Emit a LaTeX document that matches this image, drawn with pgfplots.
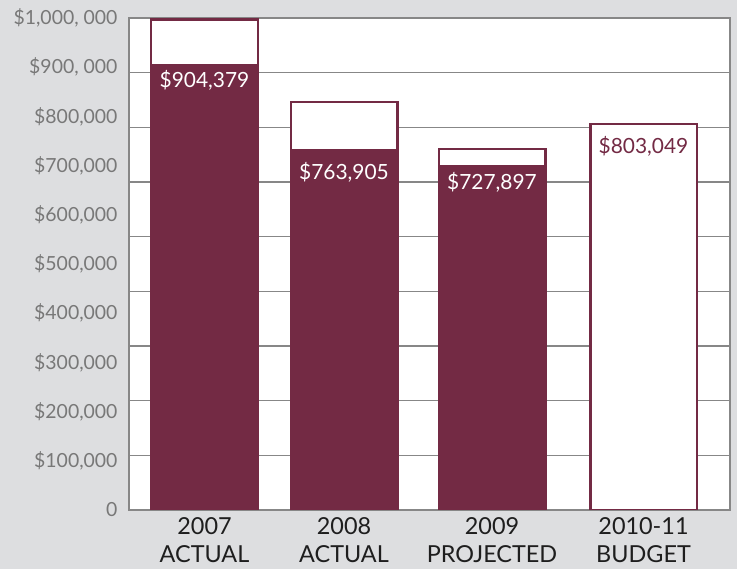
\documentclass[border=0pt]{standalone}
\usepackage{pgfplots}
\pgfplotsset{compat=1.18}
\usepackage{fontspec}
\setmainfont{Lato}
\definecolor{maroon}{RGB}{115,42,68}
\definecolor{bg}{RGB}{221,222,224}
\definecolor{gridc}{RGB}{135,135,135}
\definecolor{lab}{RGB}{120,120,120}
\definecolor{xlab}{RGB}{30,30,30}
\begin{document}
\begin{tikzpicture}[x=1bp,y=1bp]
\fill[bg] (0,0) rectangle (737,569);
\begin{axis}[
  at={(129bp,59bp)}, anchor=south west,
  scale only axis, width=601bp, height=492bp,
  xmin=129, xmax=730, ymin=0, ymax=1000000,
  axis background/.style={fill=white},
  axis line style={draw=gridc, line width=1.3pt},
  major tick length=0pt,
  scaled y ticks=false,
  ytick={0,100000,200000,300000,400000,500000,600000,700000,800000,900000,1000000},
  yticklabels={{0},{\$100,000},{\$200,000},{\$300,000},{\$400,000},{\$500,000},{\$600,000},{\$700,000},{\$800,000},{\$900, 000},{\$1,000, 000}},
  yticklabel style={text=lab, font=\fontsize{19.5}{19.5}\selectfont, xshift=-8bp},
  extra y ticks={111111,222222,333333,444444,555556,666667,777778,888889},
  extra y tick labels={},
  extra y tick style={grid=major, major grid style={draw=gridc, line width=1.2pt}},
  xtick={204.5,344,492,643.5},
  xticklabels={{2007\\ACTUAL},{2008\\ACTUAL},{2009\\PROJECTED},{2010-11\\BUDGET}},
  xticklabel style={align=center, font=\fontsize{23.5}{28.5}\selectfont, text=xlab, yshift=-4bp},
]
% outline (budget) bars
\addplot[ybar, bar width=106.5, bar shift=0, fill=white, draw=maroon, line width=2.5pt]
  coordinates {(204.5,997000) (344,829000) (492,734000) (643.5,784600)};
% filled (actual) bars
\addplot[ybar, bar width=106.5, bar shift=0, fill=maroon, draw=maroon, line width=2.5pt]
  coordinates {(204.5,904379) (344,731700) (492,699000)};
\node[text=white, font=\fontsize{21}{21}\selectfont] at (axis cs:204.5,874000) {\$904,379};
\node[text=white, font=\fontsize{21}{21}\selectfont] at (axis cs:344,687000) {\$763,905};
\node[text=white, font=\fontsize{21}{21}\selectfont] at (axis cs:492,665000) {\$727,897};
\node[text=maroon, font=\fontsize{21}{21}\selectfont] at (axis cs:643.5,740000) {\$803,049};
\end{axis}
\pgfresetboundingbox
\path (0,0) rectangle (737,569);
\end{tikzpicture}
\end{document}
